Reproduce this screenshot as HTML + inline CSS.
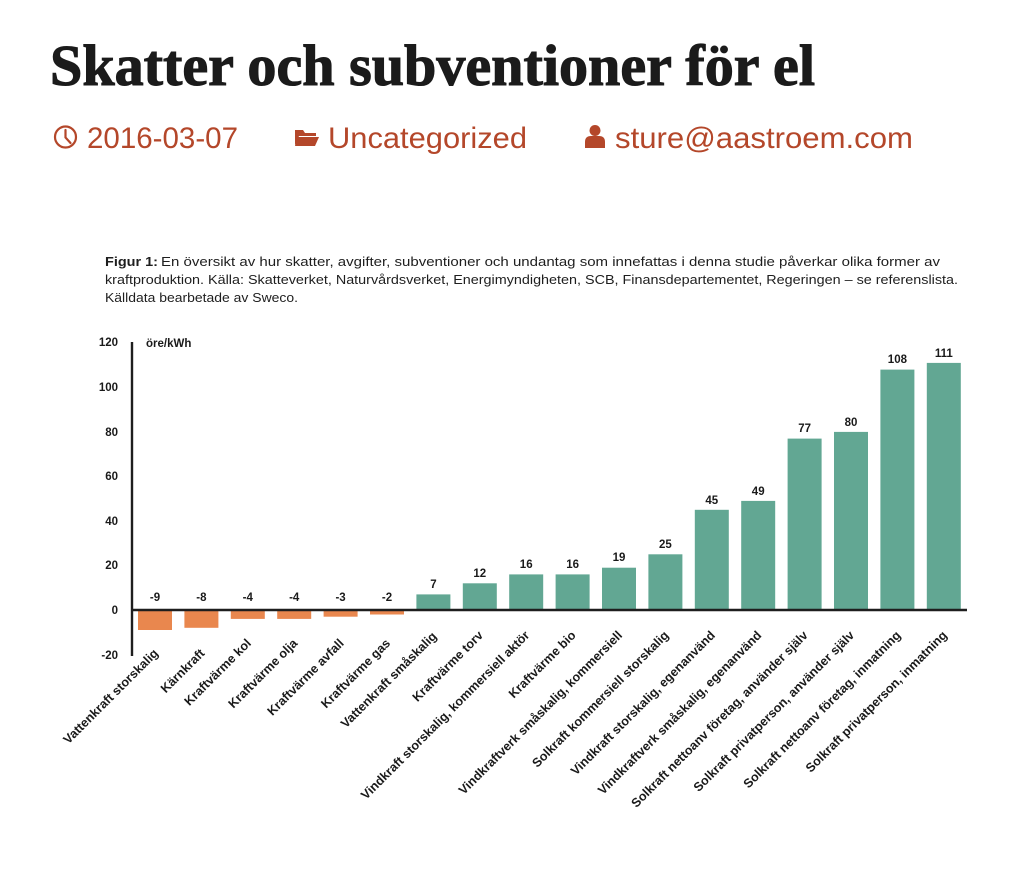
<!DOCTYPE html>
<html>
<head>
<meta charset="utf-8">
<style>
  html,body{margin:0;padding:0;background:#ffffff;}
  svg{display:block;}
  .t{font-family:"Liberation Serif",serif;font-weight:bold;fill:#1b1b1b;stroke:#1b1b1b;stroke-width:1.1px;}
  .m{font-family:"Liberation Sans",sans-serif;fill:#b4472a;}
  .c{font-family:"Liberation Sans",sans-serif;fill:#1e1e1e;font-size:13px;}
  .cb{font-weight:bold;}
  .ax{font-family:"Liberation Sans",sans-serif;font-weight:bold;fill:#1a1a1a;font-size:11.5px;}
  .lb{font-family:"Liberation Sans",sans-serif;font-weight:bold;fill:#1a1a1a;font-size:12.6px;}
</style>
</head>
<body>
<svg width="1024" height="870" viewBox="0 0 1024 870" xmlns="http://www.w3.org/2000/svg">
  <rect width="1024" height="870" fill="#ffffff"/>

  <!-- Title -->
  <text class="t" x="50" y="85" font-size="58" textLength="765" lengthAdjust="spacingAndGlyphs">Skatter och subventioner för el</text>

  <!-- Meta line -->
  <g stroke="#b4472a" fill="none" stroke-width="2.2">
    <circle cx="65.5" cy="137" r="10.5"/>
    <path d="M65.5 130 V137.5 L70.5 143" stroke-linecap="round"/>
  </g>
  <text class="m" x="87" y="148" font-size="29.5" textLength="151" lengthAdjust="spacingAndGlyphs">2016-03-07</text>

  <path d="M295 130 h8 l2 3 h11 v3 h-17 l-4 9 z" fill="#b4472a"/>
  <path d="M297 137 h22 l-4 9 h-20 z" fill="#b4472a"/>
  <text class="m" x="328" y="148" font-size="29.5" textLength="199" lengthAdjust="spacingAndGlyphs">Uncategorized</text>

  <circle cx="595" cy="130.5" r="5.5" fill="#b4472a"/>
  <path d="M585 148 v-6 q0-6 6-6 h8 q6 0 6 6 v6 z" fill="#b4472a"/>
  <text class="m" x="615" y="148" font-size="29.5" textLength="298" lengthAdjust="spacingAndGlyphs">sture@aastroem.com</text>

  <!-- Caption -->
  <text class="c cb" x="105" y="266" textLength="53" lengthAdjust="spacingAndGlyphs">Figur 1:</text>
  <text class="c" x="161" y="266" textLength="779" lengthAdjust="spacingAndGlyphs">En översikt av hur skatter, avgifter, subventioner och undantag som innefattas i denna studie påverkar olika former av</text>
  <text class="c" x="105" y="284" textLength="853" lengthAdjust="spacingAndGlyphs">kraftproduktion. Källa: Skatteverket, Naturvårdsverket, Energimyndigheten, SCB, Finansdepartementet, Regeringen – se referenslista.</text>
  <text class="c" x="105" y="302" textLength="193" lengthAdjust="spacingAndGlyphs">Källdata bearbetade av Sweco.</text>

  <!-- Y axis labels -->
  <g class="ax" text-anchor="end">
    <text x="118" y="346">120</text>
    <text x="118" y="391">100</text>
    <text x="118" y="436">80</text>
    <text x="118" y="480">60</text>
    <text x="118" y="525">40</text>
    <text x="118" y="569">20</text>
    <text x="118" y="614">0</text>
    <text x="118" y="659">-20</text>
  </g>
  <text class="ax" x="146" y="347">öre/kWh</text>

  <!-- Bars -->
  <g fill="#e9874e">
    <rect x="138" y="610" width="34" height="20"/>
    <rect x="184.4" y="610" width="34" height="17.8"/>
    <rect x="230.8" y="610" width="34" height="8.9"/>
    <rect x="277.2" y="610" width="34" height="8.9"/>
    <rect x="323.6" y="610" width="34" height="6.7"/>
    <rect x="370" y="610" width="34" height="4.5"/>
  </g>
  <g fill="#62a793">
    <rect x="416.4" y="594.4" width="34" height="15.6"/>
    <rect x="462.8" y="583.3" width="34" height="26.7"/>
    <rect x="509.2" y="574.4" width="34" height="35.6"/>
    <rect x="555.6" y="574.4" width="34" height="35.6"/>
    <rect x="602" y="567.7" width="34" height="42.3"/>
    <rect x="648.4" y="554.3" width="34" height="55.7"/>
    <rect x="694.8" y="509.8" width="34" height="100.2"/>
    <rect x="741.2" y="500.9" width="34" height="109.1"/>
    <rect x="787.6" y="438.6" width="34" height="171.4"/>
    <rect x="834" y="431.9" width="34" height="178.1"/>
    <rect x="880.4" y="369.6" width="34" height="240.4"/>
    <rect x="926.8" y="362.9" width="34" height="247.1"/>
  </g>

  <!-- Axes -->
  <line x1="132" y1="342" x2="132" y2="656" stroke="#1e1e1e" stroke-width="2.4"/>
  <line x1="131" y1="610" x2="967" y2="610" stroke="#1e1e1e" stroke-width="2.4"/>

  <!-- Value labels -->
  <g class="ax" text-anchor="middle">
    <text x="155" y="601">-9</text>
    <text x="201.4" y="601">-8</text>
    <text x="247.8" y="601">-4</text>
    <text x="294.2" y="601">-4</text>
    <text x="340.6" y="601">-3</text>
    <text x="387" y="601">-2</text>
    <text x="433.4" y="588">7</text>
    <text x="479.8" y="577">12</text>
    <text x="526.2" y="568">16</text>
    <text x="572.6" y="568">16</text>
    <text x="619" y="561">19</text>
    <text x="665.4" y="548">25</text>
    <text x="711.8" y="504">45</text>
    <text x="758.2" y="495">49</text>
    <text x="804.6" y="432">77</text>
    <text x="851" y="426">80</text>
    <text x="897.4" y="363">108</text>
    <text x="943.8" y="357">111</text>
  </g>

  <!-- Category labels -->
  <g class="lb" text-anchor="end">
    <text transform="translate(159,654) rotate(-45)">Vattenkraft storskalig</text>
    <text transform="translate(205.4,654) rotate(-45)">Kärnkraft</text>
    <text transform="translate(251.8,644) rotate(-45)">Kraftvärme kol</text>
    <text transform="translate(298.2,644) rotate(-45)">Kraftvärme olja</text>
    <text transform="translate(344.6,644) rotate(-45)">Kraftvärme avfall</text>
    <text transform="translate(391,644) rotate(-45)">Kraftvärme gas</text>
    <text transform="translate(437.4,637) rotate(-45)">Vattenkraft småskalig</text>
    <text transform="translate(483.8,636) rotate(-45)">Kraftvärme torv</text>
    <text transform="translate(530.2,636) rotate(-45)">Vindkraft storskalig, kommersiell aktör</text>
    <text transform="translate(576.6,636) rotate(-45)">Kraftvärme bio</text>
    <text transform="translate(623,636) rotate(-45)">Vindkraftverk småskalig, kommersiell</text>
    <text transform="translate(669.4,636) rotate(-45)">Solkraft kommersiell storskalig</text>
    <text transform="translate(715.8,636) rotate(-45)">Vindkraft storskalig, egenanvänd</text>
    <text transform="translate(762.2,636) rotate(-45)">Vindkraftverk småskalig, egenanvänd</text>
    <text transform="translate(808.6,636) rotate(-45)">Solkraft nettoanv företag, använder själv</text>
    <text transform="translate(855,636) rotate(-45)">Solkraft privatperson, använder själv</text>
    <text transform="translate(901.4,636) rotate(-45)">Solkraft nettoanv företag, inmatning</text>
    <text transform="translate(947.8,636) rotate(-45)">Solkraft privatperson, inmatning</text>
  </g>
</svg>
</body>
</html>
